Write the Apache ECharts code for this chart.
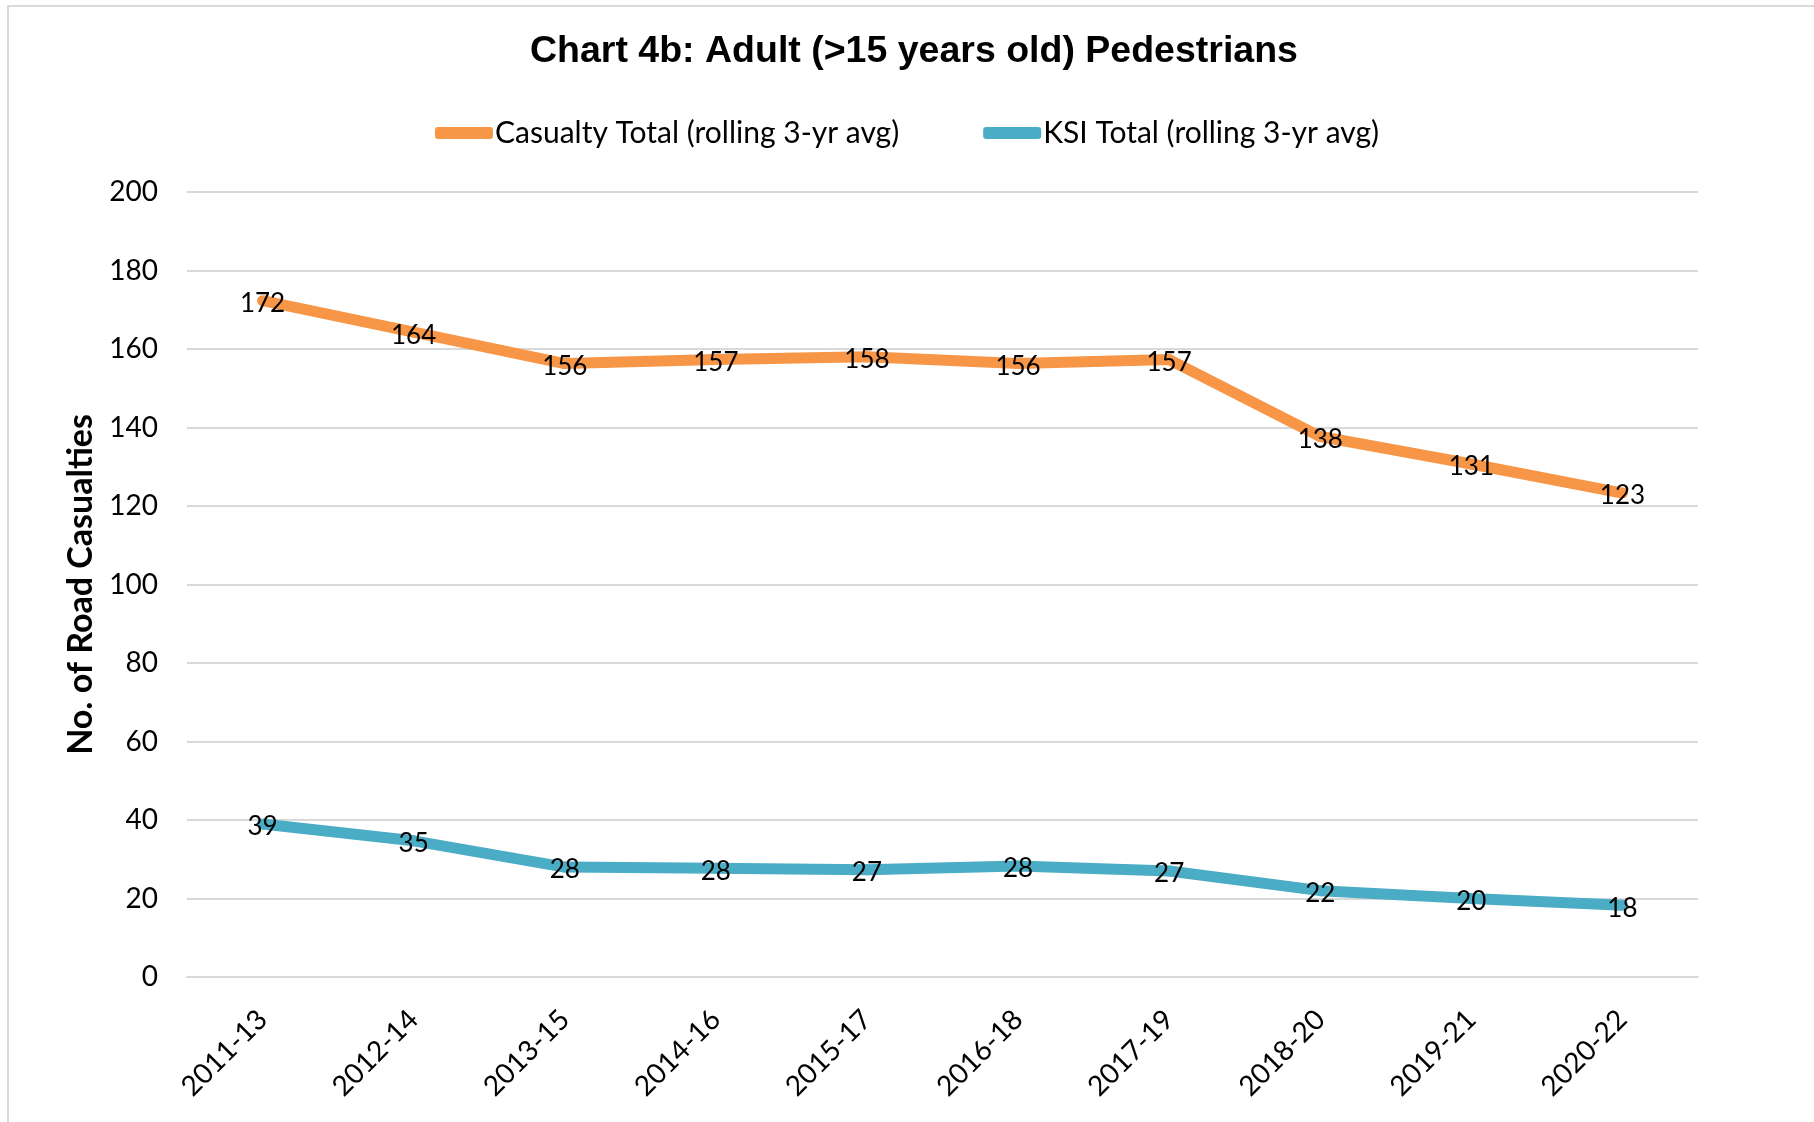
<!DOCTYPE html>
<html>
<head>
<meta charset="utf-8">
<script src="https://cdn.jsdelivr.net/npm/echarts@6/dist/echarts.min.js"></script>
<style>
  html, body { margin: 0; padding: 0; background: #fff; }
  #chart { width: 1814px; height: 1122px; }
</style>
</head>
<body>
<div id="chart"></div>
<script>
// data (rolling 3-yr averages)
var periods = ['2011-13', '2012-14', '2013-15', '2014-16', '2015-17', '2016-18', '2017-19', '2018-20', '2019-21', '2020-22'];
var casualtyTotal = [172.3, 164.3, 156.3, 157.3, 158, 156.3, 157.3, 137.7, 130.7, 123.3];
var ksiTotal = [39, 34.7, 28, 27.7, 27.3, 28.3, 27, 22, 20, 18.3];
var yTicks = { min: 0, max: 200, interval: 20 };

var colorCasualty = '#F79646';
var colorKsi = '#4BACC6';
var textFont = 'Lato';

function lineSeries(name, values, color) {
    return {
        name: name,
        type: 'line',
        data: values,
        symbol: 'circle',
        symbolSize: 11,
        itemStyle: { color: color },
        lineStyle: { color: color, width: 11 },
        label: {
            show: true,
            position: 'inside',
            offset: [0, 3],
            color: '#000',
            fontFamily: textFont,
            fontSize: 26,
            formatter: function (p) { return Math.round(p.value); }
        },
        emphasis: { disabled: true },
        animation: false
    };
}

var chart = echarts.init(document.getElementById('chart'));
chart.setOption({
    backgroundColor: '#fff',
    graphic: [{
        type: 'rect',
        shape: { x: 8, y: 6, width: 1900, height: 1200 },
        style: { fill: 'none', stroke: '#d9d9d9', lineWidth: 2 },
        silent: true
    }],
    title: {
        text: 'Chart 4b: Adult (>15 years old) Pedestrians',
        left: 525,
        top: 28,
        textStyle: { fontFamily: 'Liberation Sans', fontWeight: 'bold', fontSize: 37.5, color: '#000' }
    },
    legend: {
        top: 113,
        left: 'center',
        icon: 'roundRect',
        itemWidth: 58,
        itemHeight: 12,
        itemGap: 84,
        textStyle: { fontFamily: textFont, fontSize: 30, color: '#000', padding: [0, 0, 0, -3] },
        data: ['Casualty Total (rolling 3-yr avg)', 'KSI Total (rolling 3-yr avg)']
    },
    grid: { left: 187, right: 116, top: 192, bottom: 145, containLabel: false },
    xAxis: {
        type: 'category',
        data: periods,
        boundaryGap: true,
        axisLine: { lineStyle: { color: '#d9d9d9', width: 2 } },
        axisTick: { show: false },
        axisLabel: { rotate: 45, margin: 38, color: '#000', fontFamily: textFont, fontSize: 28 }
    },
    yAxis: {
        type: 'value',
        min: yTicks.min,
        max: yTicks.max,
        interval: yTicks.interval,
        name: 'No. of Road Casualties',
        nameLocation: 'middle',
        nameGap: 88,
        nameTextStyle: { fontFamily: textFont, fontWeight: 'bold', fontSize: 34, color: '#000' },
        axisLine: { show: false },
        axisTick: { show: false },
        axisLabel: { margin: 29, color: '#000', fontFamily: textFont, fontSize: 28 },
        splitLine: { lineStyle: { color: '#d9d9d9', width: 2 } }
    },
    series: [
        lineSeries('Casualty Total (rolling 3-yr avg)', casualtyTotal, colorCasualty),
        lineSeries('KSI Total (rolling 3-yr avg)', ksiTotal, colorKsi)
    ]
});
window.onresize = function () { chart.resize(); };
</script>
</body>
</html>
